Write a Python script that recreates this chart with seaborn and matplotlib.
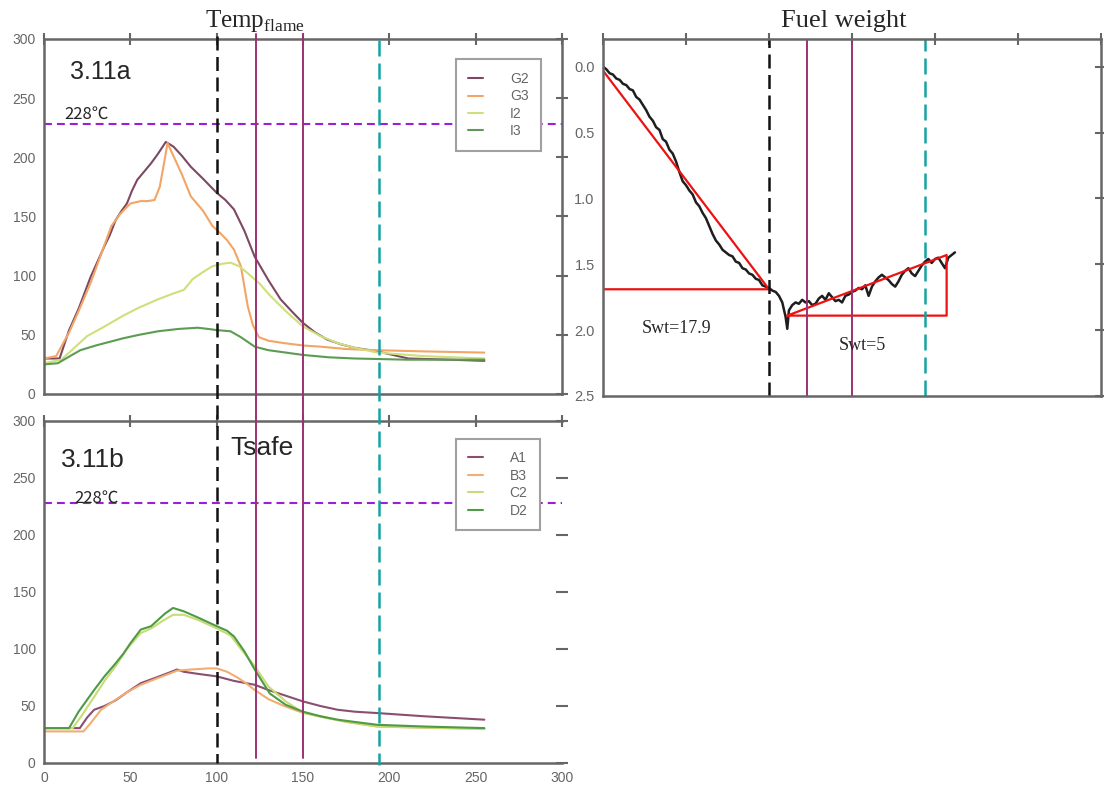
import numpy as np
import pandas as pd
import matplotlib
matplotlib.use('Agg')
import matplotlib.pyplot as plt
import seaborn as sns
from matplotlib import transforms
from matplotlib.lines import Line2D

# ---------------- datos ----------------
# 3.11a
g2_t = [0, 9, 14.5, 20, 27, 31, 35, 38, 41.5, 45, 48, 51, 54, 58, 62, 66, 70.5, 75, 80, 85, 92, 100,
        105, 110, 116, 122, 130, 137, 144, 150, 157, 164, 172, 180, 193, 211, 235, 255]
g2_v = [30, 30, 54, 72, 99, 112, 125, 134, 147, 155, 161, 172, 181, 188, 195, 203, 213, 209, 201, 192,
        182, 170, 164, 156, 138, 116, 96, 80, 69, 60, 52, 46, 42, 39, 36, 30, 29, 28]
g3_t = [0, 7, 14.5, 20, 27, 33, 39, 44, 50, 56, 60, 64, 67, 69.5, 71.5, 75, 80, 85, 92, 97.5, 102, 106,
        110, 114, 118, 121, 124.5, 130, 139, 150, 160, 175, 193, 220, 255]
g3_v = [30, 32, 52, 70, 94, 118, 142, 152, 161, 163, 163, 164, 175, 195, 212, 201, 185, 167, 155, 142,
        136, 130, 122, 108, 74, 58, 48, 45, 43, 41, 40, 38, 37, 36, 35]
i2_t = [0, 10, 25, 35, 45.6, 55, 66, 75, 81, 86, 92, 97.5, 103, 108, 113, 118, 125, 131, 140, 150, 160,
        170, 180, 193, 220, 255]
i2_v = [26, 29, 49, 57, 66, 73, 80, 85, 88, 97, 103, 108, 110, 111, 108, 102, 93, 83, 70, 57, 49, 43,
        39, 35, 32, 30]
i3_t = [0, 8, 15, 21, 30, 45.6, 55, 66, 78, 89, 95, 100, 108, 114, 122, 130, 140, 150, 165, 180, 210, 255]
i3_v = [25, 26, 32, 37, 41, 47, 50, 53, 55, 56, 55, 54, 53, 48, 40, 37, 35, 33, 31, 30, 29, 29]

# 3.11b
a1_t = [0, 20.7, 25, 29, 35, 41.5, 48, 56, 65, 72, 77, 81, 90, 100, 110, 122, 130, 140, 150, 160,
        170, 180, 193, 220, 255]
a1_v = [30.6, 30.6, 40, 46.7, 50, 55, 62, 70, 75, 79, 82, 80, 78, 76, 72, 68.6, 64, 59, 54, 50,
        46.7, 45, 43.8, 41, 38]
b3_t = [0, 22.8, 27, 33, 40, 48, 56, 65, 72, 77, 85, 95.4, 100, 106, 112, 117, 122, 130, 139, 150,
        160, 175, 193, 220, 255]
b3_v = [27.7, 27.7, 35, 46.7, 54, 62, 68.6, 74, 78, 81, 82, 83, 83, 80, 75, 70, 64, 56, 50, 44,
        41, 36, 32, 31, 30]
c2_t = [0, 16.6, 22, 29, 35, 41.5, 48, 56, 62, 68, 74.7, 81, 90, 100, 108, 114, 122, 130, 140, 150,
        165, 180, 193, 220, 255]
c2_v = [30.6, 30.6, 42, 58, 72, 85, 100, 114, 118, 124, 130, 130, 125, 118, 112, 100, 85, 67, 54, 44,
        39, 35, 32, 31, 30]
d2_t = [0, 14.5, 20, 29, 35, 41.5, 46, 50, 56, 62, 66, 70, 74.7, 81, 90, 100, 106, 110, 116, 122,
        130.7, 140, 150, 160, 170, 180, 193, 220, 255]
d2_v = [30.6, 30.6, 45, 64, 76, 87.5, 96, 105, 117, 120, 125.5, 131, 136, 133, 127, 120, 116, 111, 98,
        82, 61, 51, 45, 41, 38, 36, 33.5, 32, 30.6]

# peso de combustible
fuel_t = [0, 2, 4, 6, 8, 10, 12, 14, 16, 18, 20, 22, 24, 26, 28, 30, 32, 34, 36, 38, 40, 42, 44, 46,
          48, 50, 52, 54, 56, 58, 60, 62, 64, 66, 68, 70, 72, 74, 76, 78, 80, 82, 84, 86, 88, 90,
          92, 94, 96, 98, 100, 102, 104, 106, 108, 110, 111, 112, 114, 116, 118, 120, 122, 124,
          126, 128, 130, 132, 134, 136, 138, 140, 142, 144, 146, 148, 150, 152, 154, 156, 158,
          160, 162, 164, 166, 168, 170, 172, 174, 176, 178, 180, 182, 184, 186, 188, 190, 192,
          194, 196, 198, 200, 202, 204, 206, 208, 210, 212]
fuel_w = [0.00, 0.02, 0.05, 0.06, 0.09, 0.10, 0.13, 0.14, 0.17, 0.18, 0.23, 0.25, 0.29, 0.33, 0.38,
          0.41, 0.46, 0.48, 0.55, 0.57, 0.63, 0.66, 0.72, 0.80, 0.87, 0.90, 0.94, 0.97, 1.03, 1.06,
          1.11, 1.15, 1.21, 1.27, 1.32, 1.35, 1.39, 1.41, 1.43, 1.44, 1.48, 1.49, 1.53, 1.54, 1.57,
          1.58, 1.61, 1.62, 1.66, 1.67, 1.68, 1.70, 1.71, 1.74, 1.79, 1.90, 1.99, 1.85, 1.81, 1.79,
          1.80, 1.77, 1.79, 1.78, 1.81, 1.80, 1.76, 1.74, 1.77, 1.72, 1.75, 1.78, 1.77, 1.79, 1.74,
          1.73, 1.71, 1.70, 1.68, 1.69, 1.66, 1.74, 1.67, 1.63, 1.60, 1.58, 1.60, 1.62, 1.65, 1.67,
          1.63, 1.58, 1.55, 1.53, 1.57, 1.59, 1.55, 1.51, 1.48, 1.46, 1.49, 1.46, 1.45, 1.49, 1.53,
          1.45, 1.43, 1.41]

tri1_t = [0, 0, 100, 0]
tri1_w = [0.03, 1.69, 1.69, 0.03]
tri2_t = [111, 207, 207, 111]
tri2_w = [1.89, 1.89, 1.43, 1.89]

t_limite = 228
t_marcas = [100, 123, 150, 194]

# ---------------- estilo ----------------
sns.set_style('white')
plt.rcParams['font.family'] = ['Liberation Sans', 'Noto Sans CJK SC', 'DejaVu Sans']
plt.rcParams['mathtext.fontset'] = 'custom'
plt.rcParams['mathtext.rm'] = 'Liberation Serif'

gris = '#666666'
colores_a = {'G2': '#7d4864', 'G3': '#f2a566', 'I2': '#cfe07a', 'I3': '#5c9c52'}
colores_b = {'A1': '#8a4f70', 'B3': '#f2ad72', 'C2': '#c6dc74', 'D2': '#4f9a44'}


def tabla(series):
    partes = []
    for nombre, (t, v) in series.items():
        partes.append(pd.DataFrame({'t': t, 'T': v, 'serie': nombre}))
    return pd.concat(partes, ignore_index=True)


df_a = tabla({'G2': (g2_t, g2_v), 'G3': (g3_t, g3_v), 'I2': (i2_t, i2_v), 'I3': (i3_t, i3_v)})
df_b = tabla({'A1': (a1_t, a1_v), 'B3': (b3_t, b3_v), 'C2': (c2_t, c2_v), 'D2': (d2_t, d2_v)})

fig = plt.figure(figsize=(11.04, 7.91), dpi=100)
ax_a = fig.add_axes([0.0399, 0.5019, 0.4692, 0.4488])
ax_b = fig.add_axes([0.0399, 0.0354, 0.4692, 0.4324])
ax_f = fig.add_axes([0.5462, 0.4994, 0.4511, 0.4513])


def estilo_ejes(ax):
    for lado in ['left', 'bottom', 'top', 'right']:
        ax.spines[lado].set_color(gris)
        ax.spines[lado].set_linewidth(1.8)
    ax.tick_params(direction='inout', length=8, width=1.5, color=gris, labelcolor=gris,
                   labelsize=10, pad=2, top=True, right=True)
    ax.set_xlabel('')
    ax.set_ylabel('')


for ax, df, colores, orden in [(ax_a, df_a, colores_a, ['G2', 'G3', 'I2', 'I3']),
                               (ax_b, df_b, colores_b, ['A1', 'B3', 'C2', 'D2'])]:
    sns.lineplot(data=df, x='t', y='T', hue='serie', hue_order=orden, palette=colores,
                 estimator=None, sort=False, linewidth=1.5, ax=ax)
    ax.set_xlim(0, 300)
    ax.set_ylim(0, 300)
    ax.set_xticks(range(0, 301, 50))
    ax.set_yticks(range(0, 301, 50))
    estilo_ejes(ax)
    ax.axhline(t_limite, color='#9b1fd6', lw=1.5, ls=(0, (3.8, 2.4)))

ax_a.tick_params(labelbottom=False)
ax_b.spines['right'].set_visible(False)

sns.move_legend(ax_a, loc='upper right', bbox_to_anchor=(0.973, 0.962), title=None,
                fontsize=10, handlelength=1.1, handletextpad=1.9, labelspacing=0.25,
                borderpad=0.9, fancybox=False, framealpha=1, edgecolor='#a0a0a0', labelcolor=gris)
sns.move_legend(ax_b, loc='upper right', bbox_to_anchor=(0.971, 0.968), title=None,
                fontsize=10, handlelength=1.1, handletextpad=1.9, labelspacing=0.25,
                borderpad=0.9, fancybox=False, framealpha=1, edgecolor='#a0a0a0', labelcolor=gris)
for ax in [ax_a, ax_b]:
    ax.get_legend().get_frame().set_linewidth(1.5)

# textos paneles izquierdos
ax_a.text(32.5, 272, '3.11a', fontsize=18, ha='center', va='center')
ax_a.text(11.5, 236, '228℃', fontsize=12, ha='left', va='center', family=['Noto Sans CJK SC'])
ax_b.text(28.5, 266, '3.11b', fontsize=19, ha='center', va='center')
ax_b.text(126.5, 276, 'Tsafe', fontsize=19, ha='center', va='center')
ax_b.text(17.5, 232, '228℃', fontsize=12, ha='left', va='center', family=['Noto Sans CJK SC'])

# lineas verticales que cruzan los dos paneles
trans = transforms.blended_transform_factory(ax_a.transData, fig.transFigure)
fig.add_artist(Line2D([t_marcas[0]] * 2, [0.9545, 0.0354], transform=trans,
                      color='#111111', lw=1.8, ls=(0, (5.6, 2.6))))
for t in t_marcas[1:3]:
    fig.add_artist(Line2D([t, t], [0.957, 0.0417], transform=trans, color='#9c3272', lw=1.4))
fig.add_artist(Line2D([t_marcas[3]] * 2, [0.9494, 0.0329], transform=trans,
                      color='#17a2a2', lw=1.8, ls=(0, (6.4, 2.8))))

fig.text(0.231, 0.974, r'Temp$_{\mathrm{flame}}$', fontsize=18, ha='center', va='center',
         family='Liberation Serif')

# ---------------- peso de combustible ----------------
sns.lineplot(x=fuel_t, y=fuel_w, color='#1e1e1e', linewidth=1.8, estimator=None, sort=False, ax=ax_f)
ax_f.plot(tri1_t, tri1_w, color='#ee1111', lw=1.6)
ax_f.plot(tri2_t, tri2_w, color='#ee1111', lw=1.6)
ax_f.set_xlim(0, 300)
ax_f.set_ylim(2.5, -0.21)
ax_f.set_xticks(range(0, 301, 50))
ax_f.set_yticks([0.0, 0.5, 1.0, 1.5, 2.0, 2.5])
ax_f.set_yticklabels(['0.0', '0.5', '1.0', '1.5', '2.0', '2.5'])
estilo_ejes(ax_f)
ax_f.tick_params(labelbottom=False, labelsize=10.5)

ax_f.axvline(t_marcas[0], color='#111111', lw=1.8, ls=(0, (5.6, 2.6)))
for t in t_marcas[1:3]:
    ax_f.axvline(t, color='#9c3272', lw=1.4)
ax_f.axvline(t_marcas[3], color='#17a2a2', lw=1.8, ls=(0, (6.4, 2.8)))

ax_f.text(44.5, 1.99, 'Swt=17.9', fontsize=13, ha='center', va='center', family='Liberation Serif')
ax_f.text(156, 2.12, 'Swt=5', fontsize=13, ha='center', va='center', family='Liberation Serif')

fig.text(0.764, 0.974, 'Fuel weight', fontsize=19, ha='center', va='center',
         family='Liberation Serif')

fig.savefig('out.png', dpi=100, facecolor='white')
